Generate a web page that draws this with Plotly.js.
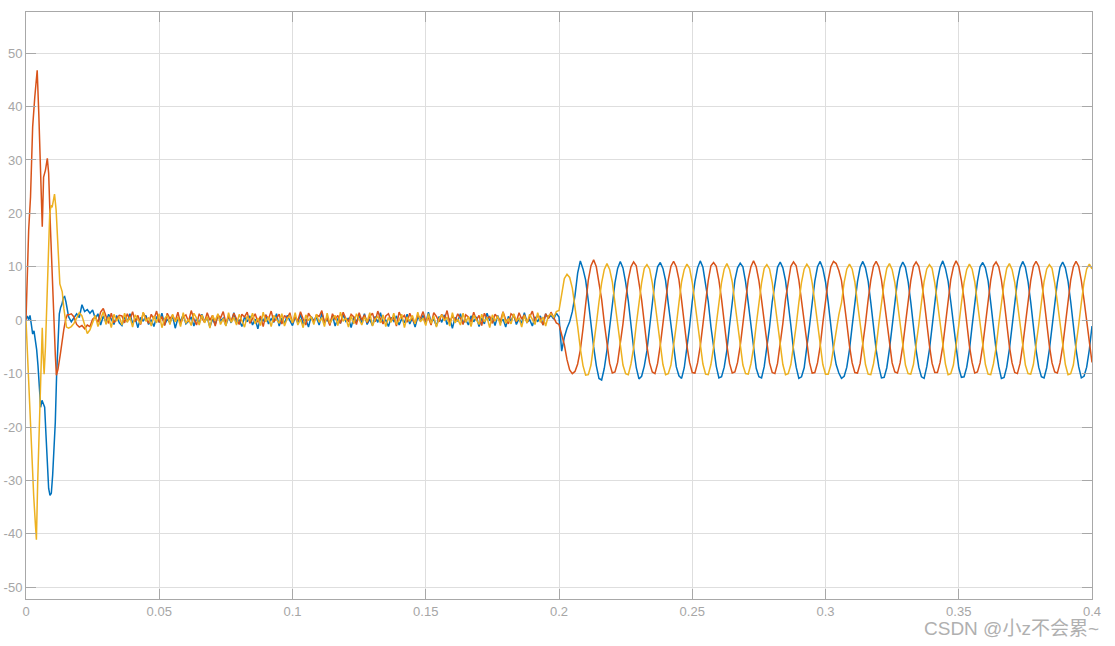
<!DOCTYPE html>
<html>
<head>
<meta charset="utf-8">
<script src="https://cdn.plot.ly/plotly-3.0.1.min.js"></script>
<style>
html,body{margin:0;padding:0;background:#fff;}
#chart{width:1115px;height:646px;}
</style>
</head>
<body>
<div id="chart"></div>
<script>
// ---------- data ----------
const DT = 0.001;          // sample period of the recorded signals after the start-up transient
const NOISE_T0 = 0.016;    // first sample of the quiet segment
const SINE_T0 = 0.2;       // first sample of the loaded segment

const xTickVals = [0, 0.05, 0.1, 0.15, 0.2, 0.25, 0.3, 0.35, 0.4];
const xTickText = ['0', '0.05', '0.1', '0.15', '0.2', '0.25', '0.3', '0.35', '0.4'];
const yTickVals = [-50, -40, -30, -20, -10, 0, 10, 20, 30, 40, 50];
const yTickText = ['-50', '-40', '-30', '-20', '-10', '0', '10', '20', '30', '40', '50'];

// start-up transient (0 .. 0.0155 s)
const blueStartT = [0, 0.0005, 0.001, 0.0015, 0.002, 0.0025, 0.003, 0.0035, 0.004, 0.0045, 0.005, 0.0055, 0.006, 0.0065, 0.007, 0.0075, 0.008, 0.0085, 0.009, 0.0095, 0.010, 0.0105, 0.011, 0.0115, 0.012, 0.0125, 0.013, 0.0135, 0.014, 0.0145, 0.015, 0.0155];
const blueStart = [0.2, 0.8, 0.1, 0.9, -0.8, -2.6, -2.0, -3.5, -5.5, -8.5, -13.5, -16.3, -15.0, -15.8, -16.3, -21.5, -27.5, -31.5, -32.8, -32.4, -29.0, -24.5, -19.0, -10.0, -3.0, 1.2, 2.4, 3.0, 4.2, 4.4, 3.4, 1.9];

const orangeStartT = [0, 0.0005, 0.001, 0.0017, 0.0025, 0.0033, 0.0042, 0.0048, 0.0054, 0.0061, 0.0066, 0.0073, 0.008, 0.0085, 0.0092, 0.0098, 0.0104, 0.011, 0.0114, 0.012, 0.0129, 0.0136, 0.0142, 0.0149, 0.0155];
const orangeStart = [0, 8.0, 16.9, 23.1, 36.2, 41.8, 46.8, 38.7, 26.8, 17.5, 26.8, 28.1, 30.3, 27.5, 16.9, 8.0, 0.0, -6.5, -10.3, -9.2, -6.3, -3.5, -1.7, 0.2, 1.0];

const yellowStartT = [0, 0.0005, 0.001, 0.0017, 0.0023, 0.0029, 0.0035, 0.0039, 0.0044, 0.0051, 0.0057, 0.0061, 0.0064, 0.0068, 0.0073, 0.0079, 0.0084, 0.0089, 0.0094, 0.0098, 0.0103, 0.0107, 0.0113, 0.0119, 0.0127, 0.0136, 0.0142, 0.0152];
const yellowStart = [0, -6.0, -11.2, -19.0, -27.5, -33.0, -38.0, -41.1, -30.0, -17.5, -5.0, -1.4, -6.2, -10.1, -5.0, 3.7, 12.0, 19.9, 21.5, 21.1, 22.5, 23.6, 20.7, 13.7, 6.8, 5.3, 2.2, -1.3];

// quiet segment, one value every DT from NOISE_T0 to 0.199 s
const blueQuiet = [
  0.6, -0.3, 0.4, 1.2, 0.5, 2.9, 1.6, 2.0, 1.3, 1.9,
  0.3, 1.2, -0.9, 0.8, -0.4, 1.1, 0.2, -0.8, 0.9, -0.5,
  -1.0, 0.6, -0.3, 1.2, -0.6, 0.3, -1.4, 0.5, -0.2, 0.9,
  -0.8, 0.1, -1.2, 0.7, -0.4, 1.3, -0.9, 0.2, -0.5, 0.8,
  -1.5, 0.4, -0.1, 1.0, -0.7, -0.2, 0.6, -1.1, 0.3, -0.6,
  1.1, -0.3, 0.5, -1.3, 0.2, -0.8, 0.9, -0.1, 0.4, -1.0,
  0.7, -0.5, 1.4, -0.6, 0.1, -1.2, 0.6, -0.3, 0.8, -0.9,
  0.2, -1.6, 0.5, -0.2, 1.0, -0.7, 0.3, -0.4, 1.2, -1.1,
  0.4, -0.6, 0.9, -0.2, -1.0, 0.6, -0.5, 1.1, -0.8, 0.2,
  -1.3, 0.7, -0.1, 0.5, -0.9, 1.3, -0.4, 0.1, -0.7, 0.8,
  -1.1, 0.3, -0.6, 1.0, -0.2, 0.4, -1.4, 0.6, -0.3, 0.9,
  -0.5, 1.2, -0.8, 0.2, -1.0, 0.7, -0.4, 1.4, -0.6, 0.1,
  -1.2, 0.5, -0.2, 0.8, -0.9, 0.3, -0.5, 1.1, -0.7, 0.4,
  -1.3, 0.6, -0.1, 0.9, -0.6, 1.5, -0.3, 0.2, -1.1, 0.7,
  -0.4, 1.0, -0.8, 0.3, -1.5, 0.5, -0.2, 1.2, -0.6, 0.1,
  -0.9, 0.8, -0.3, 0.6, -1.2, 0.4, -0.7, 1.3, -0.1, 0.5,
  -1.0, 0.9, -0.5, 0.2, -1.3, 0.7, -0.2, 1.1, -0.8, 0.3,
  -0.6, 1.4, -0.4, 0.1, -1.1, 0.6, -0.3, 0.8, -0.9, 1.2,
  0.4, 0.9, 0.2, 1.3
];
const orangeQuiet = [
  1.0, 1.2, 0.6, -0.8, -1.3, -1.0, -1.6, -0.9, -1.2, 0.2,
  0.6, -0.4, 1.5, 2.2, 0.8, -0.6, 1.3, -0.5, 0.3, 0.9,
  0.8, -0.5, 1.2, 0.1, 1.6, -0.3, 0.9, -0.8, 1.4, 0.4,
  -0.6, 1.1, 0.2, 1.7, -0.4, 0.7, -1.0, 1.3, 0.3, 0.9,
  -0.2, 1.5, -0.7, 0.6, 1.0, -0.3, 1.8, 0.2, -0.9, 1.2,
  0.5, -0.4, 1.4, 0.0, 0.9, -1.1, 1.0, 0.4, 1.6, -0.5,
  0.7, -0.2, 1.3, 0.1, -0.8, 1.1, 0.6, 1.5, -0.6, 0.3,
  1.2, -0.4, 0.8, -1.2, 1.0, 0.2, 1.7, -0.3, 0.5, 1.1,
  -0.7, 0.9, 0.3, 1.4, -0.5, 0.6, -0.1, 1.6, 0.2, -0.9,
  1.3, 0.4, -0.3, 1.0, 0.7, 1.8, -0.4, 0.5, -1.0, 1.2,
  0.1, 0.9, -0.6, 1.5, 0.3, -0.2, 1.1, 0.6, -0.8, 1.4,
  0.0, 1.0, -0.5, 0.7, 1.3, -0.3, 1.7, 0.2, -0.7, 0.8,
  1.2, -0.1, 0.6, -1.1, 1.5, 0.4, 0.9, -0.4, 1.3, 0.1,
  -0.6, 1.0, 0.3, 1.6, -0.2, 0.5, -0.9, 1.4, 0.7, -0.3,
  1.1, 0.2, 1.8, -0.5, 0.8, -0.1, 1.2, 0.4, -0.8, 1.0,
  0.6, -0.4, 1.5, 0.0, 0.9, -1.0, 1.3, 0.3, 0.7, -0.6,
  1.1, 0.5, -0.2, 1.6, 0.1, -0.7, 1.2, 0.8, -0.3, 1.4,
  0.2, 1.0, -0.5, 0.6, 1.7, -0.2, 0.9, 0.4, -0.9, 1.2,
  0.3, 1.5, 0.6, -0.5
];
const yellowQuiet = [
  -1.5, -1.2, -0.6, 0.4, 1.4, 0.8, -0.9, -2.5, -1.8, -0.3,
  0.9, -1.2, 0.4, 1.6, -0.8, 0.6, -1.4, 1.1, -0.2, 0.7,
  -0.9, 1.3, -0.4, 0.6, -1.3, 1.0, 0.1, -0.7, 1.5, -0.2,
  0.5, -1.1, 0.8, -0.5, 1.2, -1.4, 0.3, 0.9, -0.8, 1.1,
  -0.3, 0.6, -1.2, 1.4, -0.6, 0.2, -1.0, 1.3, 0.4, -0.9,
  1.0, -0.5, 0.7, -1.5, 0.9, -0.1, 1.2, -0.8, 0.3, -1.1,
  1.4, -0.4, 0.5, -0.9, 1.1, 0.0, -1.3, 0.8, -0.2, 1.3,
  -0.7, 0.4, -1.0, 1.5, -0.3, 0.6, -1.2, 0.9, 0.1, -0.6,
  1.2, -1.1, 0.3, 0.8, -0.5, 1.4, -0.9, 0.2, -1.4, 1.0,
  -0.1, 0.7, -0.8, 1.1, -0.4, 0.5, -1.2, 1.3, -0.6, 0.3,
  0.9, -1.0, 1.5, -0.2, 0.4, -1.3, 0.8, -0.7, 1.2, 0.1,
  -0.9, 0.6, -0.3, 1.4, -1.1, 0.2, 0.7, -0.5, 1.0, -1.2,
  0.5, -0.4, 1.3, -0.8, 0.0, 1.1, -1.4, 0.6, -0.2, 0.9,
  -0.7, 1.5, -0.3, 0.4, -1.0, 1.2, -0.6, 0.8, -1.3, 0.3,
  1.0, -0.1, 0.6, -1.1, 1.4, -0.5, 0.2, -0.9, 1.3, -0.4,
  0.7, -1.2, 0.9, 0.1, -0.8, 1.1, -0.3, 0.5, -1.4, 1.0,
  -0.2, 0.8, -1.0, 1.5, -0.6, 0.3, -0.7, 1.2, -0.1, 0.4,
  -1.3, 0.9, -0.5, 1.1, 0.0, -0.8, 1.4, -0.4, 0.6, -1.1,
  0.8, 1.2, 0.5, 1.6
];

// loaded segment, one value every DT from SINE_T0 to 0.400 s
const blueLoaded = [
  0.6, -5.8, -3.2, -1.5, -0.3, 1.6, 4.6, 8.8, 11.1, 9.6,
  7.5, 3.6, -1.4, -5.0, -8.5, -10.9, -11.2, -9.0, -5.6, -1.0,
  3.3, 7.0, 9.7, 11.0, 9.8, 7.1, 3.6, -1.3, -5.3, -8.9,
  -11.0, -10.5, -8.6, -5.7, -0.9, 3.2, 7.4, 10.0, 10.8, 9.7,
  7.4, 3.1, -1.0, -5.6, -8.7, -10.4, -10.9, -8.9, -5.3, -1.2,
  3.5, 7.2, 9.8, 11.1, 9.9, 7.0, 3.5, -1.2, -5.4, -8.6,
  -10.8, -10.6, -8.8, -5.6, -1.0, 3.3, 7.5, 9.8, 10.7, 10.0,
  7.2, 3.3, -1.1, -5.5, -9.0, -10.6, -10.8, -8.7, -5.4, -1.3,
  3.4, 7.1, 9.9, 10.9, 9.8, 7.4, 3.5, -1.0, -5.6, -8.8,
  -10.9, -10.6, -8.9, -5.4, -1.1, 3.2, 7.3, 10.0, 11.0, 9.7,
  7.2, 3.4, -1.2, -5.4, -8.3, -9.9, -10.9, -10.5, -8.8, -5.5,
  -1.1, 3.4, 7.2, 9.9, 11.0, 9.8, 7.3, 3.3, -1.2, -5.5,
  -8.7, -10.8, -10.7, -8.9, -5.4, -1.0, 3.5, 7.3, 9.8, 10.9,
  9.9, 7.2, 3.4, -1.1, -5.6, -8.8, -10.6, -10.9, -8.7, -5.5,
  -1.2, 3.3, 7.4, 9.9, 11.1, 9.7, 7.3, 3.5, -1.0, -5.4,
  -8.9, -10.7, -10.6, -8.8, -5.6, -1.1, 3.4, 7.2, 10.0, 10.8,
  9.8, 7.4, 3.3, -1.2, -5.5, -8.7, -10.9, -10.7, -8.8, -5.4,
  -1.0, 3.5, 7.3, 9.8, 11.0, 9.9, 7.2, 3.4, -1.1, -5.6,
  -8.8, -10.6, -10.8, -8.9, -5.5, -1.2, 3.4, 7.1, 9.9, 10.9,
  9.8, 7.3, 3.5, -1.0, -5.4, -8.7, -10.8, -10.5, -8.8, -5.5,
  -1.1
];
const orangeLoaded = [
  -0.8, -2.6, -4.6, -7.4, -9.3, -10.0, -9.6, -8.2, -5.6, -1.6,
  3.2, 7.5, 10.2, 11.3, 10.0, 7.3, 3.9, -0.5, -4.9, -8.1,
  -9.9, -9.7, -7.9, -4.7, -0.7, 3.7, 7.6, 10.0, 10.9, 10.2,
  7.4, 3.8, -0.5, -4.9, -8.0, -9.7, -10.0, -8.1, -4.7, -0.6,
  3.9, 7.5, 10.1, 11.0, 10.0, 7.6, 3.7, -0.7, -4.8, -7.9,
  -9.8, -9.9, -8.0, -4.9, -0.5, 3.8, 7.4, 10.2, 10.8, 10.1,
  7.5, 3.9, -0.6, -4.7, -8.1, -9.9, -9.7, -7.9, -4.8, -0.7,
  3.7, 7.6, 10.0, 11.1, 10.0, 7.4, 3.8, -0.5, -4.9, -8.0,
  -9.8, -10.0, -8.1, -4.7, -0.6, 3.9, 7.5, 10.1, 10.9, 10.2,
  7.5, 3.7, -0.6, -4.8, -7.9, -9.9, -9.8, -8.0, -4.9, -0.5,
  3.8, 7.4, 10.0, 11.0, 10.6, 9.3, 7.4, 3.8, -0.6, -4.8,
  -8.0, -9.8, -9.9, -8.1, -4.7, -0.6, 3.8, 7.5, 10.1, 11.0,
  10.0, 7.6, 3.7, -0.5, -4.9, -8.0, -9.7, -9.9, -8.0, -4.8,
  -0.7, 3.9, 7.4, 10.1, 10.9, 10.1, 7.5, 3.8, -0.6, -4.7,
  -8.1, -9.8, -9.8, -7.9, -4.9, -0.5, 3.7, 7.6, 10.0, 11.1,
  10.1, 7.4, 3.9, -0.6, -4.8, -7.9, -9.9, -9.7, -8.0, -4.8,
  -0.6, 3.8, 7.5, 10.2, 10.9, 10.0, 7.5, 3.7, -0.7, -4.9,
  -8.0, -9.8, -10.0, -8.1, -4.7, -0.5, 3.8, 7.4, 10.1, 11.0,
  10.1, 7.6, 3.8, -0.6, -4.8, -8.0, -9.7, -9.9, -8.0, -4.9,
  -0.6, 3.9, 7.5, 10.0, 11.0, 10.1, 7.4, 3.8, -0.5, -4.8,
  -7.9
];
const yellowLoaded = [
  1.8, 5.0, 7.8, 8.6, 8.0, 6.0, 2.8, -1.2, -5.3, -8.5,
  -10.3, -10.2, -8.4, -5.0, -0.8, 3.4, 7.0, 9.5, 10.6, 9.5,
  7.2, 3.2, -1.0, -5.0, -8.4, -10.0, -10.2, -8.2, -5.2, -0.8,
  3.4, 7.0, 9.7, 10.4, 9.6, 7.0, 3.4, -0.8, -5.2, -8.3,
  -10.2, -10.0, -8.4, -5.0, -1.0, 3.2, 7.2, 9.5, 10.5, 9.7,
  7.1, 3.3, -0.9, -5.1, -8.2, -10.1, -10.2, -8.3, -5.1, -0.8,
  3.3, 7.1, 9.6, 10.6, 9.5, 7.2, 3.2, -1.0, -5.0, -8.4,
  -10.0, -10.1, -8.2, -5.2, -0.9, 3.4, 7.0, 9.7, 10.4, 9.6,
  7.1, 3.3, -0.8, -5.1, -8.3, -10.2, -10.0, -8.3, -5.0, -1.0,
  3.3, 7.1, 9.6, 10.5, 9.7, 7.0, 3.4, -0.9, -5.2, -8.3,
  -10.1, -10.1, -8.4, -5.1, -1.5, 1.0, 3.3, 7.1, 9.6, 10.5,
  9.6, 7.2, 3.2, -0.9, -5.0, -8.3, -10.1, -10.2, -8.2, -5.1,
  -0.8, 3.4, 7.0, 9.7, 10.6, 9.5, 7.1, 3.3, -1.0, -5.2,
  -8.4, -10.0, -10.1, -8.3, -5.0, -0.9, 3.3, 7.2, 9.6, 10.4,
  9.7, 7.0, 3.4, -0.8, -5.1, -8.2, -10.2, -10.0, -8.4, -5.1,
  -1.0, 3.2, 7.1, 9.5, 10.5, 9.6, 7.2, 3.3, -0.9, -5.0,
  -8.3, -10.1, -10.2, -8.2, -5.2, -0.8, 3.4, 7.0, 9.7, 10.6,
  9.5, 7.1, 3.2, -1.0, -5.1, -8.4, -10.0, -10.1, -8.3, -5.0,
  -0.9, 3.3, 7.2, 9.6, 10.4, 9.7, 7.0, 3.4, -0.8, -5.2,
  -8.3, -10.2, -10.0, -8.4, -5.1, -0.9, 3.3, 7.1, 9.6, 10.5,
  9.6
];

const seriesColors = ['#0072BD', '#D95319', '#EDB120'];
const watermark = 'CSDN @小z不会累~';

// ---------- build traces ----------
function sampleTimes(t0, n) {
  const out = [];
  for (let i = 0; i < n; i++) out.push(Math.round((t0 + i * DT) * 1e6) / 1e6);
  return out;
}
function makeTrace(startT, start, quiet, loaded, color) {
  const x = startT.concat(sampleTimes(NOISE_T0, quiet.length), sampleTimes(SINE_T0, loaded.length));
  const y = start.concat(quiet, loaded);
  return { x: x, y: y, type: 'scatter', mode: 'lines', line: { color: color, width: 1.5 }, hoverinfo: 'skip', showlegend: false };
}
const traces = [
  makeTrace(blueStartT, blueStart, blueQuiet, blueLoaded, seriesColors[0]),
  makeTrace(orangeStartT, orangeStart, orangeQuiet, orangeLoaded, seriesColors[1]),
  makeTrace(yellowStartT, yellowStart, yellowQuiet, yellowLoaded, seriesColors[2])
];

const axisCommon = {
  showgrid: true, gridcolor: '#dedede', gridwidth: 1,
  showline: true, linecolor: '#a8a8a8', linewidth: 1, mirror: 'ticks',
  ticks: 'inside', ticklen: 10, tickcolor: '#a8a8a8', tickwidth: 1,
  zeroline: false, tickmode: 'array',
  tickfont: { family: 'Liberation Sans, Arial, sans-serif', size: 13, color: '#a6a6a6' },
  fixedrange: true
};

const layout = {
  width: 1115, height: 646,
  margin: { l: 26, r: 23, t: 12, b: 47, pad: 0 },
  paper_bgcolor: '#ffffff', plot_bgcolor: '#ffffff',
  showlegend: false,
  xaxis: Object.assign({}, axisCommon, { range: [0, 0.4], tickvals: xTickVals, ticktext: xTickText }),
  yaxis: Object.assign({}, axisCommon, { range: [-52.2, 57.7], tickvals: yTickVals, ticktext: yTickText }),
  annotations: [{
    text: watermark, xref: 'paper', yref: 'paper', x: 1.0085, y: -0.05,
    xanchor: 'right', yanchor: 'middle', showarrow: false,
    font: { family: 'Liberation Sans, Noto Sans CJK SC, sans-serif', size: 19, color: '#b0b0b0' }
  }]
};

Plotly.newPlot('chart', traces, layout, { staticPlot: true, displayModeBar: false });
</script>
</body>
</html>
